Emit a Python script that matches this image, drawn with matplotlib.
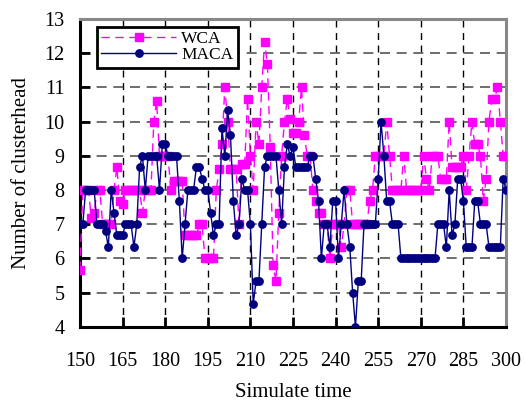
import matplotlib.pyplot as plt
import numpy as np

plt.rcParams['font.family'] = ['Liberation Serif', 'DejaVu Serif']

# simulate time steps 150..300
time = np.arange(150, 301)

wca = [5.67, 8, 8, 8, 7.17, 7.33, 8, 8, 7, 7,
       7, 7, 8, 8.67, 7.67, 7.6, 8, 8, 8, 8,
       8, 8, 7.33, 8, 8, 8, 10, 10.6, 9, 9,
       9, 9, 8, 8.27, 8.27, 8.27, 8.27, 6.67, 6.67, 6.67,
       6.67, 6.67, 7, 7, 6, 6, 6, 6, 8, 8.6,
       9.33, 11, 10, 8.6, 8.6, 8.6, 7, 8.75, 8.75, 10.67,
       9, 8, 10, 9.33, 11, 12.33, 11.67, 9.25, 5.8, 5.33,
       7.33, 9, 10, 10.67, 10.07, 9.67, 9.67, 10, 11, 9.6,
       9, 9, 8, 7.67, 7.33, 7.33, 7, 7, 6, 7,
       7, 7, 6.33, 7, 8, 8, 7, 7, 7, 7,
       7, 7, 7.67, 8, 9, 9, 9, 9, 10, 9,
       8, 8, 8, 8, 9, 8, 8, 8, 8, 8,
       8, 9, 8.33, 8, 9, 9, 9, 8.33, 8.33, 8.33,
       10, 8.67, 8.67, 8.67, 8.67, 9, 8, 9, 10, 9.33,
       9.33, 9, 7.67, 8.33, 10, 10.67, 10.67, 11, 10, 9,
       9]

maca = [7, 7, 8, 8, 8, 8, 7, 7, 7, 6.8,
        6.33, 8, 7.33, 6.67, 6.67, 6.67, 7, 7, 7, 6.33,
        7, 8.67, 9, 8, 9, 9, 9, 9, 8, 9.33,
        9.33, 9, 9, 9, 9, 7.67, 6, 7, 8, 8,
        8, 8.67, 8.67, 8.33, 8, 8, 7.33, 6.67, 7, 7,
        9.8, 9, 10.33, 9.6, 7.67, 6.67, 7, 8.33, 8, 8,
        7, 4.67, 5.33, 5.33, 7, 8.67, 9, 9, 9, 9,
        8, 7, 8.67, 9.33, 9, 9.25, 8.67, 8.67, 8.67, 8.67,
        8.67, 9, 9, 8.33, 7.67, 6, 7, 7, 6.33, 7.67,
        7.67, 6, 7, 8, 7, 6.33, 5, 4, 5.33, 5.33,
        7, 7, 7, 7, 7, 8.33, 10, 9, 7.67, 7.67,
        7, 7, 7, 6, 6, 6, 6, 6, 6, 6,
        6, 6, 6, 6, 6, 6, 7, 7, 7, 6.33,
        8, 6.67, 7, 8.33, 8.33, 7.67, 6.33, 6.33, 6.33, 7.67,
        7.67, 7, 7, 7, 6.33, 6.33, 6.33, 6.33, 6.33, 8.33,
        8]

fig = plt.figure(figsize=(5.26, 4.03), dpi=100)
ax = fig.add_axes([0.152, 0.189, 0.810, 0.764])

ax.plot(time, wca, color='#FF00FF', linestyle=(0, (6, 4)), linewidth=1,
        marker='s', markersize=5.8, label='WCA', zorder=3)
ax.plot(time, maca, color='#000080', linestyle='-', linewidth=1,
        marker='o', markersize=5.3, label='MACA', zorder=4)

ax.set_xlim(150, 300)
ax.set_ylim(4, 13)
ax.set_xticks(np.arange(150, 301, 15))
ax.set_yticks(np.arange(4, 14, 1))

ax.xaxis.grid(True, color='black', linestyle=(0, (5, 4)), linewidth=1)
ax.yaxis.grid(True, color='#555555', linestyle=(0, (6, 4)), linewidth=1.2)
ax.set_axisbelow(True)

ax.tick_params(axis='both', direction='in', length=7, width=2, labelsize=14.5)
ax.tick_params(axis='x', pad=18)
ax.tick_params(axis='y', pad=11)

for side in ['left', 'bottom']:
    ax.spines[side].set_linewidth(2.2)
    ax.spines[side].set_color('black')
for side in ['top', 'right']:
    ax.spines[side].set_linewidth(2.2)
    ax.spines[side].set_color('#888888')

ax.set_xlabel('Simulate time', fontsize=15, labelpad=9)
ax.set_ylabel('Number of clusterhead', fontsize=15, labelpad=10)

leg = ax.legend(loc='upper left', bbox_to_anchor=(0.04, 0.975), fontsize=12.5,
                handlelength=4.3, fancybox=False, framealpha=1,
                edgecolor='black', borderpad=0.25, labelspacing=0.0,
                handletextpad=0.3, borderaxespad=0)
leg.get_frame().set_linewidth(2)

plt.savefig('out.png', dpi=100)
